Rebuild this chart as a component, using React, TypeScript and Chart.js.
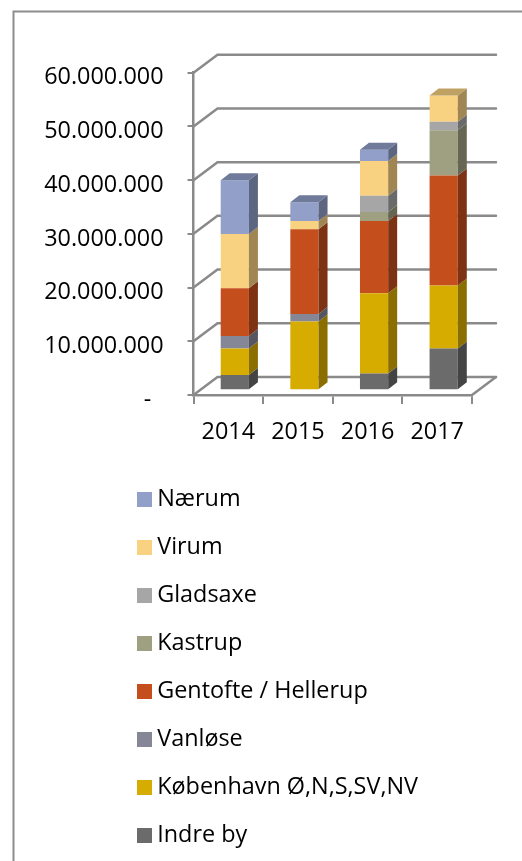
import React, { useEffect, useRef } from "react";
import { Chart, registerables } from "chart.js";

Chart.register(...registerables);

const years = ["2014", "2015", "2016", "2017"];
const indreBy = [2850000, 0, 3150000, 7800000];
const kobenhavn = [4950000, 12800000, 14900000, 11700000];
const vanlose = [2300000, 1400000, 0, 0];
const gentofte = [8900000, 15800000, 13450000, 20500000];
const kastrup = [0, 0, 1700000, 8400000];
const gladsaxe = [0, 0, 3000000, 1600000];
const virum = [10100000, 1500000, 6500000, 4900000];
const naerum = [10000000, 3500000, 2100000, 0];

const seriesNames = ["Indre by", "København Ø,N,S,SV,NV", "Vanløse", "Gentofte / Hellerup", "Kastrup", "Gladsaxe", "Virum", "Nærum"];
const seriesValues = [indreBy, kobenhavn, vanlose, gentofte, kastrup, gladsaxe, virum, naerum];
const seriesColors = ["#6b6b6b", "#d7ac00", "#868796", "#c44f1d", "#9fa082", "#a6a6a6", "#f8d280", "#929fc8"];

const FONT = "'Open Sans', Lato, sans-serif";
const FONT_SIZE = 23.4;
const GRID = "#8a8a8a";

const shade = (hex: string, f: number) => {
  const n = parseInt(hex.slice(1), 16);
  const c = [(n >> 16) & 255, (n >> 8) & 255, n & 255].map((v) => Math.round(v * f));
  return `rgb(${c[0]},${c[1]},${c[2]})`;
};

const swatch = (color: string) => {
  const c = document.createElement("canvas");
  c.width = 15;
  c.height = 15;
  const g = c.getContext("2d")!;
  g.fillStyle = color;
  g.fillRect(0, 0, 15, 15);
  return c;
};

const depthX = 24;
const depthY = -18;
const barShiftX = 6.5;
const barShiftY = -4.7;
const barDX = 9;
const barDY = -7;

const frame3d = {
  id: "frame3d",
  beforeDraw(chart: any) {
    const { ctx, width, height } = chart;
    ctx.save();
    ctx.strokeStyle = "#8c8c8c";
    ctx.lineWidth = 2;
    ctx.beginPath();
    ctx.moveTo(13.5, height + 5);
    ctx.lineTo(13.5, 11.5);
    ctx.lineTo(width + 5, 11.5);
    ctx.stroke();
    ctx.restore();
  },
  beforeDatasetsDraw(chart: any) {
    const { ctx, chartArea, scales } = chart;
    const { left, right, bottom } = chartArea;
    ctx.save();
    ctx.strokeStyle = GRID;
    ctx.lineWidth = 2.5;
    ctx.lineCap = "round";
    for (const t of scales.y.ticks) {
      const y = scales.y.getPixelForValue(t.value);
      ctx.beginPath();
      ctx.moveTo(left, y);
      ctx.lineTo(left + depthX, y + depthY);
      ctx.lineTo(right + depthX, y + depthY);
      ctx.stroke();
    }
    ctx.beginPath();
    ctx.moveTo(right, bottom);
    ctx.lineTo(right + depthX, bottom + depthY);
    ctx.stroke();
    ctx.restore();
    ctx.save();
    ctx.translate(barShiftX, barShiftY);
  },
  afterDatasetsDraw(chart: any) {
    const { ctx } = chart;
    const last: Record<number, number> = {};
    chart.data.datasets.forEach((ds: any, i: number) => {
      ds.data.forEach((v: number, j: number) => {
        if (v > 0) last[j] = i;
      });
    });
    chart.data.datasets.forEach((ds: any, i: number) => {
      chart.getDatasetMeta(i).data.forEach((bar: any, j: number) => {
        if (!(ds.data[j] > 0)) return;
        const r = bar.x + bar.width / 2;
        const l = bar.x - bar.width / 2;
        const top = bar.y;
        const bot = bar.base;
        ctx.fillStyle = shade(seriesColors[i], 0.64);
        ctx.beginPath();
        ctx.moveTo(r, top);
        ctx.lineTo(r + barDX, top + barDY);
        ctx.lineTo(r + barDX, bot + barDY);
        ctx.lineTo(r, bot);
        ctx.closePath();
        ctx.fill();
        if (last[j] === i) {
          ctx.fillStyle = shade(seriesColors[i], 0.77);
          ctx.beginPath();
          ctx.moveTo(l, top);
          ctx.lineTo(l + barDX, top + barDY);
          ctx.lineTo(r + barDX, top + barDY);
          ctx.lineTo(r, top);
          ctx.closePath();
          ctx.fill();
        }
      });
    });
    ctx.restore();
  },
  afterLayout(chart: any) {
    const lg = chart.legend;
    if (!lg) return;
    lg.update(400, 420, { left: 0, top: 0, right: 0, bottom: 0 });
    lg.left = 118.9;
    lg.right = 118.9 + lg.width;
    lg.top = 462.9;
    lg.bottom = 462.9 + lg.height;
    lg.adjustHitBoxes();
  },
};

export default function App() {
  const ref = useRef<HTMLCanvasElement>(null);
  useEffect(() => {
    const chart = new Chart(ref.current!, {
      type: "bar",
      data: {
        labels: years,
        datasets: seriesNames.map((name, i) => ({
          label: name,
          data: seriesValues[i],
          backgroundColor: seriesColors[i],
          borderWidth: 0,
          categoryPercentage: 1,
          barPercentage: 0.405,
        })),
      },
      options: {
        responsive: false,
        animation: false,
        layout: { padding: { left: 0, right: 50, top: 72.7, bottom: 0 } },
        scales: {
          x: {
            stacked: true,
            afterFit: (s: any) => {
              s.height = 466;
            },
            grid: { drawOnChartArea: false, color: GRID, lineWidth: 2, tickLength: 9 },
            border: { color: GRID, width: 2.5 },
            ticks: { color: "#000", padding: 14, maxRotation: 0, font: { family: FONT, size: FONT_SIZE } },
          },
          y: {
            stacked: true,
            min: 0,
            max: 60000000,
            afterFit: (s: any) => {
              s.width = 193.5;
            },
            grid: { drawOnChartArea: false, color: GRID, lineWidth: 2, tickLength: 6 },
            border: { color: GRID, width: 2.5 },
            ticks: {
              stepSize: 10000000,
              color: "#000",
              padding: 24,
              labelOffset: 5,
              crossAlign: "near",
              font: { family: FONT, size: FONT_SIZE },
              callback: (v: any) =>
                v === 0 ? "-\u00a0\u00a0" : String(v).replace(/\B(?=(\d{3})+$)/g, "."),
            },
          },
        },
        plugins: {
          tooltip: { enabled: false },
          title: { display: false },
          legend: {
            display: true,
            position: "chartArea",
            align: "start",
            labels: {
              usePointStyle: true,
              boxWidth: 2,
              boxHeight: 10,
              padding: 24.6,
              color: "#000",
              font: { family: FONT, size: FONT_SIZE },
              generateLabels: (c: any) =>
                Chart.defaults.plugins.legend.labels
                  .generateLabels(c)
                  .map((it: any, i: number) => ({ ...it, pointStyle: swatch(seriesColors[i]) }))
                  .reverse(),
            },
          },
        },
      } as any,
      plugins: [frame3d],
    });
    return () => chart.destroy();
  }, []);
  return (
    <div style={{ position: "absolute", left: 0, top: 0, width: 522, height: 861, background: "#fff" }}>
      <canvas ref={ref} width={522} height={861} style={{ display: "block" }} />
    </div>
  );
}
